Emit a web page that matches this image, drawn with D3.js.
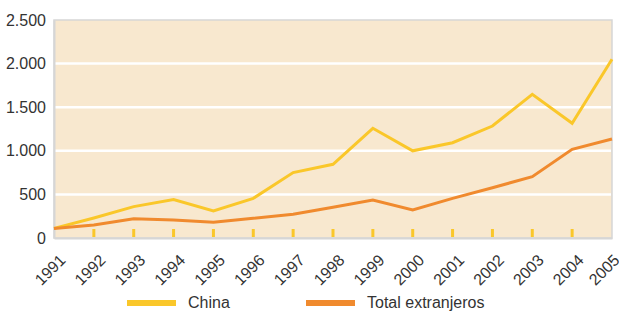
<!DOCTYPE html>
<html>
<head>
<meta charset="utf-8">
<script src="https://cdn.jsdelivr.net/npm/d3@7"></script>
<style>
  body { margin: 0; background: #fff; }
  text { font-family: "Liberation Sans", Arial, sans-serif; fill: #333; }
</style>
</head>
<body>
<svg id="chart" width="619" height="311"></svg>
<script>
// years on the x axis
const years = d3.range(1991, 2006)
// series
const china = [110, 230, 360, 440, 310, 455, 750, 845, 1258, 1000, 1093, 1284, 1648, 1315, 2049]
const totalExtranjeros = [110, 150, 221, 206, 180, 226, 272, 352, 436, 321, 455, 577, 703, 1017, 1135]
const yTicks = [0, 500, 1000, 1500, 2000, 2500]
const seriesNames = ['China', 'Total extranjeros']
const seriesColors = ['#fac72a', '#f08a2e']

const svg = d3.select('#chart')
const m = {left: 54, top: 20, right: 612, bottom: 238}

const x = d3.scaleLinear().domain([1991, 2005]).range([m.left, m.right])
const y = d3.scaleLinear().domain([0, 2500]).range([m.bottom, m.top])

const fmt = d3.formatLocale({decimal: ',', thousands: '.', grouping: [3], currency: ['', '€']}).format(',d')

// background
svg.append('rect')
  .attr('x', m.left).attr('y', m.top)
  .attr('width', m.right - m.left).attr('height', m.bottom - m.top)
  .attr('fill', '#f8e8cf')
  .attr('stroke', '#d6d6d6').attr('stroke-width', 1.5)

// white grid
svg.append('g')
  .selectAll('line')
  .data(yTicks.filter(d => d > 0 && d < 2500))
  .join('line')
  .attr('x1', m.left + 1).attr('x2', m.right - 1)
  .attr('y1', d => y(d)).attr('y2', d => y(d))
  .attr('stroke', '#fff').attr('stroke-width', 2.5)

// y axis
const yAxis = svg.append('g')
  .attr('transform', `translate(${m.left},0)`)
  .call(d3.axisLeft(y).tickValues(yTicks).tickFormat(fmt).tickSize(0).tickPadding(8))
yAxis.select('.domain').attr('stroke', '#d6d6d6').attr('stroke-width', 2)
yAxis.selectAll('text').style('font-size', '16px').attr('fill', '#333')

// x axis
const xAxis = svg.append('g')
  .attr('transform', `translate(0,${m.bottom})`)
  .call(d3.axisBottom(x).tickValues(years).tickFormat(d => d).tickSize(0))
xAxis.select('.domain').attr('stroke', '#d6d6d6').attr('stroke-width', 2)
xAxis.selectAll('text')
  .style('font-size', '16px').attr('fill', '#333')
  .attr('text-anchor', 'end')
  .attr('dy', 0)
  // last label pulled in a bit so it stays on the page
  .attr('transform', d => d === 2005 ? 'translate(6,21) rotate(-45)' : 'translate(10,21) rotate(-45)')

// small yellow tick marks inside the plot
svg.append('g')
  .selectAll('rect')
  .data(years.slice(1, -1))
  .join('rect')
  .attr('x', d => x(d) - 1.5).attr('y', m.bottom - 9)
  .attr('width', 3).attr('height', 8)
  .attr('fill', '#fac72a')

// lines
const line = d3.line().x((d, i) => x(years[i])).y(d => y(d))
;[china, totalExtranjeros].forEach((s, i) => {
  svg.append('path')
    .datum(s)
    .attr('d', line)
    .attr('fill', 'none')
    .attr('stroke', seriesColors[i])
    .attr('stroke-width', 3)
    .attr('stroke-linejoin', 'miter')
})

// legend
const lg = svg.append('g')
const legendX = [127, 306]
seriesNames.forEach((n, i) => {
  lg.append('rect')
    .attr('x', legendX[i]).attr('y', 300)
    .attr('width', 49).attr('height', 6)
    .attr('fill', seriesColors[i])
  lg.append('text')
    .attr('x', legendX[i] + 61).attr('y', 307.5)
    .style('font-size', '16px')
    .text(n)
})
</script>
</body>
</html>
